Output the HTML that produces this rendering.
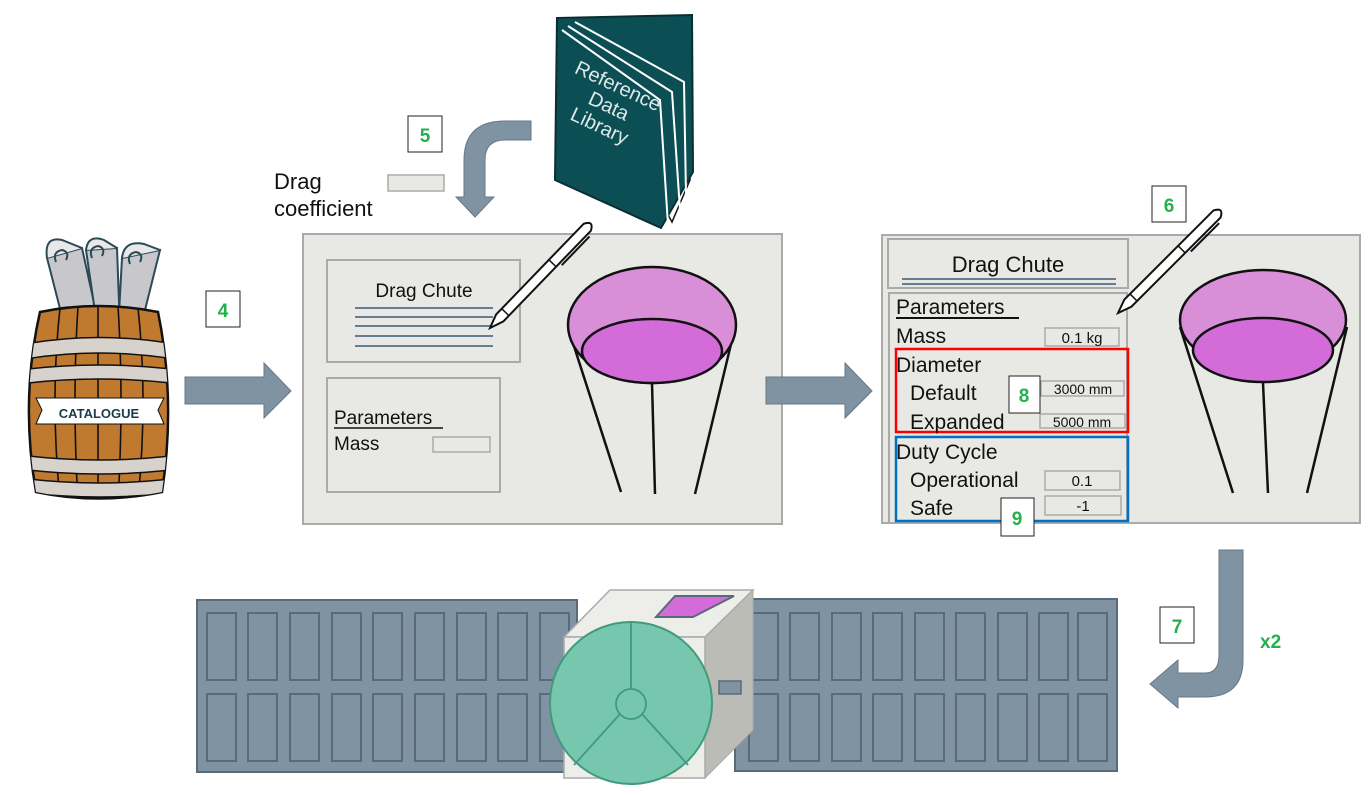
<!DOCTYPE html>
<html><head><meta charset="utf-8"><style>
html,body{margin:0;padding:0;background:#fff}
svg{display:block}
text{font-family:"Liberation Sans",sans-serif}
</style></head><body>
<svg width="1371" height="795" viewBox="0 0 1371 795" xmlns="http://www.w3.org/2000/svg">
<defs>
<clipPath id="bc"><path d="M40,312 Q98,300 158,312 Q176,400 162,492 Q98,505 36,492 Q20,400 40,312Z"/></clipPath>
</defs>

<!-- Barrel -->
<g stroke="#2a4a55" stroke-width="2" fill="#c8c8cc">
 <path d="M47,258 L82,248 L100,330 L66,332Z"/>
 <path d="M86,250 L117,248 L120,330 L98,332Z"/>
 <path d="M122,258 L160,250 L140,330 L118,332Z"/>
 <path d="M47,258 Q44,236 62,240 L82,248" fill="#e8e8ea"/>
 <path d="M86,250 Q88,234 104,240 L117,248" fill="#e8e8ea"/>
 <path d="M122,258 Q124,240 144,244 L160,250" fill="#e8e8ea"/>
 <path d="M56,262 q-4,-10 6,-12 q8,2 4,10" fill="none"/>
 <path d="M92,258 q-4,-10 6,-12 q8,2 4,10" fill="none"/>
 <path d="M130,264 q-4,-10 6,-12 q8,2 4,10" fill="none"/>
</g>
<path d="M40,312 Q98,300 158,312 Q176,400 162,492 Q98,505 36,492 Q20,400 40,312Z" fill="#c07a30" stroke="#111" stroke-width="2.5"/>
<g clip-path="url(#bc)" stroke="#111" stroke-width="1.6" fill="none">
 <path d="M60,308 Q50,400 60,500"/><path d="M78,306 Q72,400 78,502"/><path d="M98,305 L98,505"/>
 <path d="M118,306 Q124,400 118,502"/><path d="M138,308 Q148,400 138,500"/>
 <g fill="#d8d2cc" stroke="#111" stroke-width="1.5">
  <path d="M20,345 Q98,330 180,345 L180,360 Q98,346 20,360Z"/>
  <path d="M20,370 Q98,360 180,370 L180,384 Q98,374 20,384Z"/>
  <path d="M20,455 Q98,465 180,455 L180,469 Q98,479 20,469Z"/>
  <path d="M20,478 Q98,488 180,478 L180,492 Q98,502 20,492Z"/>
 </g>
</g>
<path d="M36,398 L164,398 L158,410 L164,424 L36,424 L42,410Z" fill="#fff" stroke="#111" stroke-width="1"/>
<text x="99" y="418" font-size="13" font-weight="bold" fill="#1a3c4a" text-anchor="middle">CATALOGUE</text>

<!-- Arrow 4 -->
<path d="M185,377 L264,377 L264,363 L291,391 L264,418 L264,404 L185,404Z" fill="#7f93a3" stroke="#66788a"/>
<rect x="206" y="291" width="34" height="36" fill="#fff" stroke="#222"/>
<text x="223" y="317" font-size="19" font-weight="bold" fill="#22b14c" text-anchor="middle">4</text>

<!-- Arrow 5 -->
<path d="M531,121 L505,121 Q464,121 464,160 L464,197 L456,197 L475,217 L494,197 L485,197 L485,160 Q485,140 505,140 L531,140Z" fill="#7f93a3" stroke="#66788a"/>
<rect x="408" y="116" width="34" height="36" fill="#fff" stroke="#222"/>
<text x="425" y="142" font-size="19" font-weight="bold" fill="#22b14c" text-anchor="middle">5</text>
<text x="274" y="189" font-size="22" fill="#111">Drag</text>
<text x="274" y="216" font-size="22" fill="#111">coefficient</text>
<rect x="388" y="175" width="56" height="16" fill="#e8e8e4" stroke="#aaa" stroke-width="1.5"/>

<!-- Book -->
<path d="M562,22 L684,18 L690,180 L672,222 Z" fill="#fff" stroke="#111" stroke-width="1.5"/>
<path d="M557,18 L692,15 L693,172 L661,228 L555,180 Z" fill="#0b4f55" stroke="#0a2e33" stroke-width="2"/>
<path d="M562,30 L660,100 L668,225 M568,26 L672,92 L680,210 M575,22 L684,82 L686,195" fill="none" stroke="#fff" stroke-width="2"/>
<g transform="translate(606,112) rotate(25)" fill="#dfe8e8" font-size="20" text-anchor="middle">
 <text x="0" y="-22">Reference</text><text x="0" y="0">Data</text><text x="0" y="22">Library</text>
</g>

<!-- Panel 1 -->
<rect x="303" y="234" width="479" height="290" fill="#e8e8e4" stroke="#aaa" stroke-width="2"/>
<rect x="327" y="260" width="193" height="102" fill="#e8e8e4" stroke="#aaa" stroke-width="2"/>
<text x="424" y="297" font-size="19" fill="#111" text-anchor="middle">Drag Chute</text>
<g stroke="#1a3c5a" stroke-width="1.3"><line x1="355" y1="308" x2="493" y2="308"/><line x1="355" y1="317" x2="493" y2="317"/><line x1="355" y1="326" x2="493" y2="326"/><line x1="355" y1="336" x2="493" y2="336"/><line x1="355" y1="346" x2="493" y2="346"/></g>
<rect x="327" y="378" width="173" height="114" fill="#e8e8e4" stroke="#aaa" stroke-width="2"/>
<text x="334" y="424" font-size="19" fill="#111">Parameters</text>
<line x1="334" y1="428" x2="443" y2="428" stroke="#111" stroke-width="1.5"/>
<text x="334" y="450" font-size="19" fill="#111">Mass</text>
<rect x="433" y="437" width="57" height="15" fill="#e8e8e4" stroke="#aaa" stroke-width="1.5"/>
<!-- chute 1 -->
<g stroke="#111" stroke-width="2.5" fill="none"><line x1="572" y1="340" x2="621" y2="492"/><line x1="652" y1="383" x2="655" y2="494"/><line x1="732" y1="340" x2="695" y2="494"/></g>
<ellipse cx="652" cy="325" rx="84" ry="58" fill="#d88fd8" stroke="#111" stroke-width="2.5"/>
<ellipse cx="652" cy="351" rx="70" ry="32" fill="#d36cd8" stroke="#111" stroke-width="2.5"/>
<!-- pen 1 -->
<g transform="translate(490,328) rotate(-46)">
 <path d="M0,0 L14,-5 L140,-5 Q150,0 140,5 L14,5 Z" fill="#fff" stroke="#111" stroke-width="2"/>
 <line x1="22" y1="-5" x2="22" y2="5" stroke="#111" stroke-width="1.5"/><line x1="90" y1="-5" x2="90" y2="5" stroke="#111" stroke-width="1.5"/>
 <line x1="95" y1="8" x2="135" y2="8" stroke="#111" stroke-width="2"/>
</g>

<!-- Arrow between -->
<path d="M766,377 L845,377 L845,363 L872,391 L845,418 L845,404 L766,404Z" fill="#7f93a3" stroke="#66788a"/>

<!-- Panel 2 -->
<rect x="882" y="235" width="478" height="288" fill="#e8e8e4" stroke="#aaa" stroke-width="2"/>
<rect x="888" y="239" width="240" height="49" fill="#e8e8e4" stroke="#aaa" stroke-width="2"/>
<text x="1008" y="272" font-size="22" fill="#111" text-anchor="middle">Drag Chute</text>
<line x1="902" y1="279" x2="1116" y2="279" stroke="#1a3c5a" stroke-width="1.3"/><line x1="902" y1="284" x2="1116" y2="284" stroke="#1a3c5a" stroke-width="1.3"/>
<rect x="889" y="293" width="238" height="230" fill="none" stroke="#aaa" stroke-width="2"/>
<text x="896" y="314" font-size="21" fill="#111">Parameters</text>
<line x1="896" y1="318" x2="1019" y2="318" stroke="#111" stroke-width="2"/>
<text x="896" y="343" font-size="21" fill="#111">Mass</text>
<rect x="1045" y="328" width="74" height="18" fill="#e8e8e4" stroke="#aaa" stroke-width="1.5"/>
<text x="1082" y="343" font-size="15" fill="#111" text-anchor="middle">0.1 kg</text>
<rect x="896" y="349" width="232" height="83" fill="none" stroke="#f00" stroke-width="2.5"/>
<text x="896" y="372" font-size="21" fill="#111">Diameter</text>
<text x="910" y="400" font-size="21" fill="#111">Default</text>
<rect x="1041" y="381" width="83" height="15" fill="#e8e8e4" stroke="#aaa" stroke-width="1.5"/>
<text x="1083" y="394" font-size="14" fill="#111" text-anchor="middle">3000 mm</text>
<text x="910" y="429" font-size="21" fill="#111">Expanded</text>
<rect x="1040" y="414" width="85" height="14" fill="#e8e8e4" stroke="#aaa" stroke-width="1.5"/>
<text x="1082" y="427" font-size="14" fill="#111" text-anchor="middle">5000 mm</text>
<rect x="1009" y="376" width="31" height="37" fill="#fff" stroke="#222"/>
<text x="1024" y="402" font-size="19" font-weight="bold" fill="#22b14c" text-anchor="middle">8</text>
<rect x="896" y="437" width="232" height="84" fill="none" stroke="#0070c0" stroke-width="2.5"/>
<text x="896" y="459" font-size="21" fill="#111">Duty Cycle</text>
<text x="910" y="487" font-size="21" fill="#111">Operational</text>
<rect x="1045" y="471" width="75" height="19" fill="#e8e8e4" stroke="#aaa" stroke-width="1.5"/>
<text x="1082" y="486" font-size="15" fill="#111" text-anchor="middle">0.1</text>
<text x="910" y="515" font-size="21" fill="#111">Safe</text>
<rect x="1045" y="496" width="76" height="19" fill="#e8e8e4" stroke="#aaa" stroke-width="1.5"/>
<text x="1083" y="511" font-size="15" fill="#111" text-anchor="middle">-1</text>
<rect x="1001" y="498" width="33" height="38" fill="#fff" stroke="#222"/>
<text x="1017" y="525" font-size="19" font-weight="bold" fill="#22b14c" text-anchor="middle">9</text>
<rect x="1152" y="186" width="34" height="36" fill="#fff" stroke="#222"/>
<text x="1169" y="212" font-size="19" font-weight="bold" fill="#22b14c" text-anchor="middle">6</text>
<!-- chute 2 -->
<g stroke="#111" stroke-width="2.5" fill="none"><line x1="1180" y1="327" x2="1233" y2="493"/><line x1="1263" y1="383" x2="1268" y2="493"/><line x1="1347" y1="327" x2="1307" y2="493"/></g>
<ellipse cx="1263" cy="320" rx="83" ry="50" fill="#d88fd8" stroke="#111" stroke-width="2.5"/>
<ellipse cx="1263" cy="350" rx="70" ry="32" fill="#d36cd8" stroke="#111" stroke-width="2.5"/>
<g transform="translate(1118,313) rotate(-45)">
 <path d="M0,0 L14,-5 L140,-5 Q150,0 140,5 L14,5 Z" fill="#fff" stroke="#111" stroke-width="2"/>
 <line x1="22" y1="-5" x2="22" y2="5" stroke="#111" stroke-width="1.5"/><line x1="90" y1="-5" x2="90" y2="5" stroke="#111" stroke-width="1.5"/>
 <line x1="95" y1="8" x2="135" y2="8" stroke="#111" stroke-width="2"/>
</g>

<!-- Arrow 7 -->
<path d="M1219,550 L1243,550 L1243,660 Q1243,697 1205,697 L1178,697 L1178,708 L1150,684 L1178,660 L1178,673 L1205,673 Q1219,673 1219,655Z" fill="#7f93a3" stroke="#66788a"/>
<rect x="1160" y="607" width="34" height="36" fill="#fff" stroke="#222"/>
<text x="1177" y="633" font-size="19" font-weight="bold" fill="#22b14c" text-anchor="middle">7</text>
<text x="1260" y="648" font-size="19" font-weight="bold" fill="#22b14c">x2</text>

<!-- Satellite -->
<rect x="197" y="600" width="380" height="172" fill="#7f93a3" stroke="#5a6a78" stroke-width="2"/>
<g fill="#7f93a3" stroke="#5a6a78" stroke-width="2">
 <rect x="207" y="613" width="29" height="67"/><rect x="248" y="613" width="29" height="67"/><rect x="290" y="613" width="29" height="67"/><rect x="332" y="613" width="29" height="67"/><rect x="373" y="613" width="29" height="67"/><rect x="415" y="613" width="29" height="67"/><rect x="457" y="613" width="29" height="67"/><rect x="498" y="613" width="29" height="67"/><rect x="540" y="613" width="29" height="67"/>
 <rect x="207" y="694" width="29" height="67"/><rect x="248" y="694" width="29" height="67"/><rect x="290" y="694" width="29" height="67"/><rect x="332" y="694" width="29" height="67"/><rect x="373" y="694" width="29" height="67"/><rect x="415" y="694" width="29" height="67"/><rect x="457" y="694" width="29" height="67"/><rect x="498" y="694" width="29" height="67"/><rect x="540" y="694" width="29" height="67"/>
</g>
<rect x="735" y="599" width="382" height="172" fill="#7f93a3" stroke="#5a6a78" stroke-width="2"/>
<g fill="#7f93a3" stroke="#5a6a78" stroke-width="2">
 <rect x="749" y="613" width="29" height="67"/><rect x="790" y="613" width="29" height="67"/><rect x="832" y="613" width="29" height="67"/><rect x="873" y="613" width="29" height="67"/><rect x="915" y="613" width="29" height="67"/><rect x="956" y="613" width="29" height="67"/><rect x="998" y="613" width="29" height="67"/><rect x="1039" y="613" width="29" height="67"/><rect x="1078" y="613" width="29" height="67"/>
 <rect x="749" y="694" width="29" height="67"/><rect x="790" y="694" width="29" height="67"/><rect x="832" y="694" width="29" height="67"/><rect x="873" y="694" width="29" height="67"/><rect x="915" y="694" width="29" height="67"/><rect x="956" y="694" width="29" height="67"/><rect x="998" y="694" width="29" height="67"/><rect x="1039" y="694" width="29" height="67"/><rect x="1078" y="694" width="29" height="67"/>
</g>
<path d="M705,637 L753,590 L753,730 L705,778Z" fill="#bcbcb6" stroke="#aaa"/>
<path d="M564,637 L610,590 L753,590 L705,637Z" fill="#ededea" stroke="#aaa" stroke-width="1.5"/>
<rect x="564" y="637" width="141" height="141" fill="#ededea" stroke="#aaa" stroke-width="1.5"/>
<path d="M656,617 L693,617 L734,596 L675,596Z" fill="#d36cd8" stroke="#5a6a78" stroke-width="2"/>
<rect x="719" y="681" width="22" height="13" fill="#7f93a3" stroke="#5a6a78" stroke-width="1.5"/>
<circle cx="631" cy="703" r="81" fill="#76c7ad" stroke="#3f9a7e" stroke-width="2"/>
<g stroke="#3f9a7e" stroke-width="1.8" fill="none">
 <line x1="631" y1="622" x2="631" y2="690"/><line x1="620" y1="714" x2="574" y2="765"/><line x1="642" y1="714" x2="688" y2="765"/>
 <circle cx="631" cy="704" r="15" fill="#76c7ad"/>
</g>
</svg>
</body></html>
